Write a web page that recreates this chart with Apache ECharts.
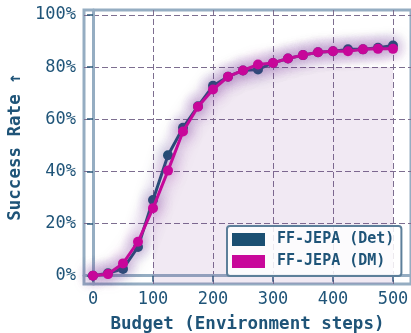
<!DOCTYPE html>
<html><head><meta charset="utf-8">
<script src="https://cdn.jsdelivr.net/npm/echarts@6/dist/echarts.min.js"></script>
<style>html,body{margin:0;padding:0;background:#fff}#c{width:411px;height:333px}</style>
</head><body><div id="c"></div>
<script>
const budget = [0,25,50,75,100,125,150,175,200,225,250,275,300,325,350,375,400,425,450,475,500];
const det = [0.000,0.009,0.026,0.110,0.290,0.462,0.567,0.650,0.728,0.763,0.787,0.791,0.816,0.833,0.846,0.857,0.861,0.868,0.868,0.874,0.883];
const dm  = [0.000,0.006,0.047,0.130,0.259,0.403,0.553,0.648,0.714,0.763,0.787,0.810,0.816,0.833,0.846,0.857,0.861,0.861,0.868,0.870,0.870];
const xTicks = [0,100,200,300,400,500];
const yTicks = [0,0.2,0.4,0.6,0.8,1.0];
const shadeStart = 100, shadeCap = 0.8;
const names = ['FF-JEPA (Det)','FF-JEPA (DM)'];

const textColor = '#1f5478';
const mono = "'DejaVu Sans Mono', monospace";
const shade = [];
budget.forEach((b,i)=>{ if (b>=shadeStart) shade.push([b, Math.min(dm[i], shadeCap)]); });

const chart = echarts.init(document.getElementById('c'), null, {renderer:'canvas'});
chart.setOption({
  animation:false,
  grid:{left:84, top:10, right:0, bottom:49, show:true, borderColor:'#95adc2', borderWidth:3,
    containLabel:false, outerBoundsMode:'none'},
  xAxis:{type:'value', min:-15, max:530,
    name:'Budget (Environment steps)', nameLocation:'middle', nameGap:31,
    nameTextStyle:{fontFamily:mono, fontWeight:'bold', fontSize:17.5, color:textColor},
    axisLine:{show:true, lineStyle:{color:'#95adc2', width:3}},
    axisTick:{show:true, customValues:xTicks, length:6, lineStyle:{color:'#2d5a7b', width:1.5}},
    axisLabel:{customValues:xTicks, margin:7, fontFamily:mono, fontSize:17, color:textColor},
    splitLine:{show:true, lineStyle:{color:'#7d6e90', type:[6,3], width:1}}
  },
  yAxis:{type:'value', min:-0.032, max:1.019,
    name:'Success Rate ↑', nameLocation:'middle', nameGap:58,
    nameTextStyle:{fontFamily:mono, fontWeight:'bold', fontSize:17.5, color:textColor},
    axisLine:{show:true, lineStyle:{color:'#95adc2', width:3}},
    axisTick:{show:true, customValues:yTicks, length:6, lineStyle:{color:'#2d5a7b', width:1.5}},
    axisLabel:{customValues:yTicks, margin:8, fontFamily:mono, fontSize:17, color:textColor,
      formatter:v=>Math.round(v*100)+'%'},
    splitLine:{show:true, lineStyle:{color:'#7d6e90', type:[6,3], width:1}}
  },
  legend:{orient:'vertical', left:227, top:226, padding:[6,7,7,5], itemGap:7,
    itemWidth:33, itemHeight:13, icon:'rect',
    backgroundColor:'rgba(255,255,255,0.85)', borderColor:'#5d7f9a', borderWidth:2, borderRadius:3,
    textStyle:{fontFamily:mono, fontWeight:'bold', fontSize:15, color:textColor, padding:[0,0,0,7]},
    itemStyle:{shadowBlur:0, borderWidth:0},
    data:[{name:names[0], itemStyle:{color:'#1b4f72'}},{name:names[1], itemStyle:{color:'#c8079a'}}]
  },
  series:[
    {type:'line', name:'shade', data:shade, symbol:'none', silent:true,
      lineStyle:{width:0}, areaStyle:{color:'rgba(125,45,140,0.15)', origin:'start'}, z:1},
    {type:'line', name:names[0], data:budget.map((b,i)=>[b,det[i]]), symbol:'circle', symbolSize:10,
      lineStyle:{color:'#1b4f72', width:3, shadowBlur:16, shadowColor:'rgba(70,70,140,0.7)'},
      itemStyle:{color:'#1b4f72', shadowBlur:14, shadowColor:'rgba(70,70,140,0.6)'}, z:3},
    {type:'line', name:names[1], data:budget.map((b,i)=>[b,dm[i]]), symbol:'circle', symbolSize:10,
      lineStyle:{color:'#c8079a', width:3, shadowBlur:16, shadowColor:'rgba(170,60,170,0.7)'},
      itemStyle:{color:'#c8079a', shadowBlur:14, shadowColor:'rgba(170,60,170,0.6)'}, z:4}
  ]
});
</script></body></html>
